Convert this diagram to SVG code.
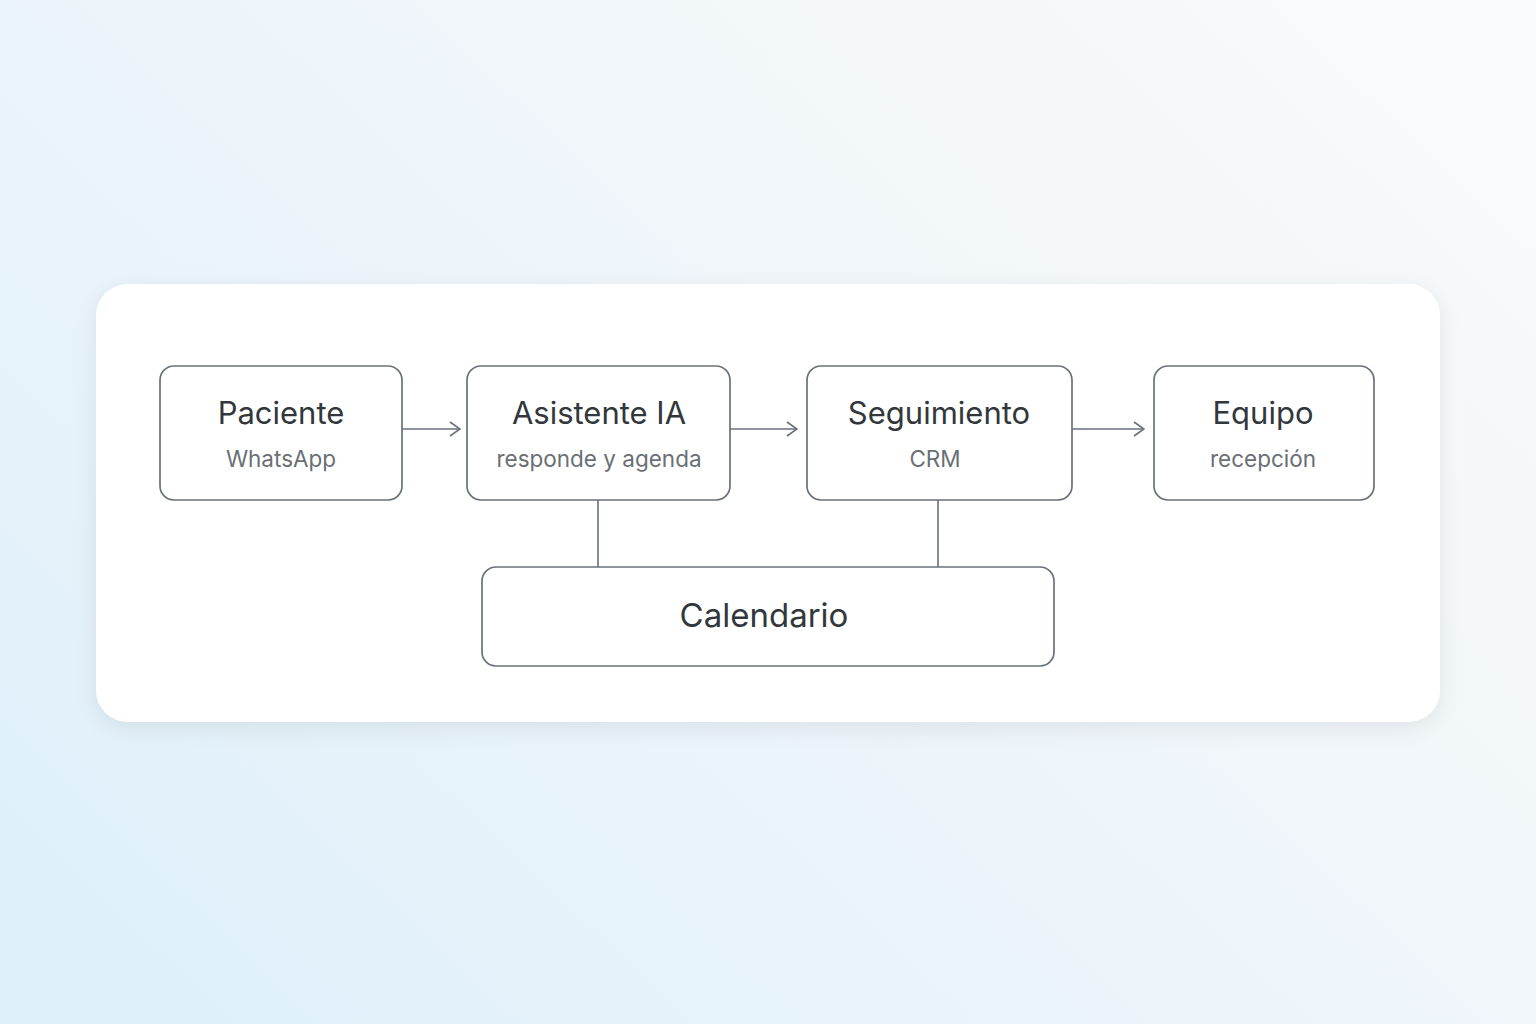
<svg xmlns="http://www.w3.org/2000/svg" width="1536" height="1024" viewBox="0 0 1536 1024">
<defs>
<linearGradient id="bg" x1="0" y1="0.85" x2="1" y2="0.15">
<stop offset="0" stop-color="#dff0fa"/>
<stop offset="0.5" stop-color="#eef5fa"/>
<stop offset="1" stop-color="#f8fafb"/>
</linearGradient>
<filter id="sh" x="-10%" y="-20%" width="120%" height="140%">
<feGaussianBlur in="SourceAlpha" stdDeviation="12"/>
<feOffset dy="6"/>
<feComponentTransfer><feFuncA type="linear" slope="0.08"/></feComponentTransfer>
<feMerge><feMergeNode/><feMergeNode in="SourceGraphic"/></feMerge>
</filter>
<marker id="arr" viewBox="0 0 12 16" markerWidth="12" markerHeight="16" refX="11" refY="8" orient="auto" markerUnits="userSpaceOnUse">
<path d="M1 1 L11 8 L1 15" fill="none" stroke="#69717a" stroke-width="1.6"/>
</marker>
<style>
.box{fill:#ffffff;stroke:#69717a;stroke-width:1.7}
.t{font-family:Inter,"Open Sans","Liberation Sans",sans-serif;font-size:31px;fill:#32373c;text-anchor:middle}
.s{font-family:Inter,"Open Sans","Liberation Sans",sans-serif;font-size:22.5px;fill:#6a6f75;text-anchor:middle}
.c{fill:none;stroke:#69717a;stroke-width:1.6}
</style>
</defs>
<rect width="1536" height="1024" fill="url(#bg)"/>
<rect x="96" y="284" width="1344" height="438" rx="32" fill="#ffffff" filter="url(#sh)"/>
<g id="connectors">
<line class="c" x1="402" y1="429" x2="460" y2="429" marker-end="url(#arr)"/>
<line class="c" x1="730" y1="429" x2="797" y2="429" marker-end="url(#arr)"/>
<line class="c" x1="1072" y1="429" x2="1144" y2="429" marker-end="url(#arr)"/>
<line class="c" x1="598" y1="500" x2="598" y2="567"/>
<line class="c" x1="938" y1="500" x2="938" y2="567"/>
</g>
<g id="paciente">
<rect class="box" x="160" y="366" width="242" height="134" rx="14"/>
<text class="t" x="281" y="424">Paciente</text>
<text class="s" x="281" y="467">WhatsApp</text>
</g>
<g id="asistente">
<rect class="box" x="467" y="366" width="263" height="134" rx="14"/>
<text class="t" x="599" y="424">Asistente IA</text>
<text class="s" x="599" y="467">responde y agenda</text>
</g>
<g id="seguimiento">
<rect class="box" x="807" y="366" width="265" height="134" rx="14"/>
<text class="t" x="939" y="424">Seguimiento</text>
<text class="s" x="935" y="467">CRM</text>
</g>
<g id="equipo">
<rect class="box" x="1154" y="366" width="220" height="134" rx="14"/>
<text class="t" x="1263" y="424">Equipo</text>
<text class="s" x="1263" y="467">recepción</text>
</g>
<g id="calendario">
<rect class="box" x="482" y="567" width="572" height="99" rx="14"/>
<text class="t" x="764" y="627" style="font-size:33px">Calendario</text>
</g>
</svg>
